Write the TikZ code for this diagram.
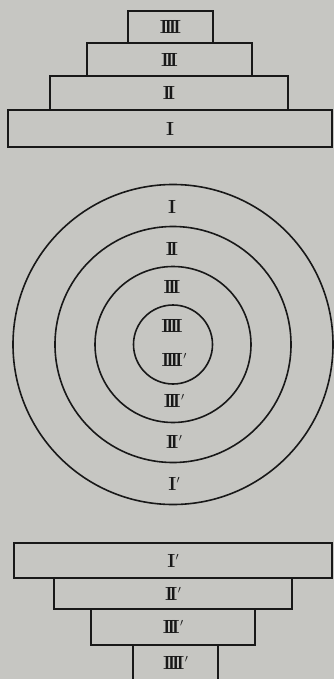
\documentclass[tikz,border=0pt]{standalone}
\usepackage{fontspec}
\newcommand\RomI{I}
\newcommand\RomII{I\kern-3.6pt I}
\newcommand\RomIII{I\kern-3.6pt I\kern-3.6pt I}
\newcommand\RomIIII{I\kern-3.6pt I\kern-3.6pt I\kern-3.6pt I}
\newcommand\RomPrime{\kern0.5pt\raisebox{7pt}{\fontsize{11}{11}\selectfont$\prime$}}
\definecolor{paper}{RGB}{198,198,194}
\definecolor{ink}{RGB}{24,24,24}
\tikzset{
  box/.style={draw=ink, line width=1.6pt, rectangle, inner sep=0pt, font=\fontsize{19}{19}\selectfont\bfseries, text=ink},
  ring/.style={draw=ink, line width=1.6pt},
  lbl/.style={inner sep=0pt, font=\fontsize{19}{19}\selectfont\bfseries, text=ink}
}
\begin{document}
\begin{tikzpicture}[x=1pt,y=-1pt]
\fill[paper] (0,0) rectangle (334,679);
\useasboundingbox (0,0) rectangle (334,679);
% top pyramid
\node[box, minimum width=324pt, minimum height=37pt] (t1) at (170,128.5) {\RomI};
\node[box, minimum width=238pt, minimum height=34pt] (t2) at (169,93) {\RomII};
\node[box, minimum width=165pt, minimum height=33pt] (t3) at (169.5,59.5) {\RomIII};
\node[box, minimum width=85pt, minimum height=32pt] (t4) at (170.5,27) {\RomIIII};
% circles
\coordinate (c) at (173,344.5);
\draw[ring] (c) circle (160pt);
\draw[ring] (c) circle (118pt);
\draw[ring] (c) circle (78pt);
\draw[ring] (c) circle (39.5pt);
\node[lbl] (l1) at (172,207) {\RomI};
\node[lbl] (l2) at (172,249) {\RomII};
\node[lbl] (l3) at (172,287) {\RomIII};
\node[lbl] (l4) at (172,326) {\RomIIII};
\node[lbl] (l4p) at (174,360) {\RomIIII\RomPrime};
\node[lbl] (l3p) at (174,401) {\RomIII\RomPrime};
\node[lbl] (l2p) at (174,442) {\RomII\RomPrime};
\node[lbl] (l1p) at (174,484) {\RomI\RomPrime};
% bottom pyramid
\node[box, minimum width=318pt, minimum height=35pt] (b1) at (173,560.5) {\RomI\RomPrime};
\node[box, minimum width=238pt, minimum height=31pt] (b2) at (173,593.5) {\RomII\RomPrime};
\node[box, minimum width=164pt, minimum height=36pt] (b3) at (173,627) {\RomIII\RomPrime};
\node[box, minimum width=85pt, minimum height=36pt] (b4) at (175.5,663) {\RomIIII\RomPrime};
\end{tikzpicture}
\end{document}
